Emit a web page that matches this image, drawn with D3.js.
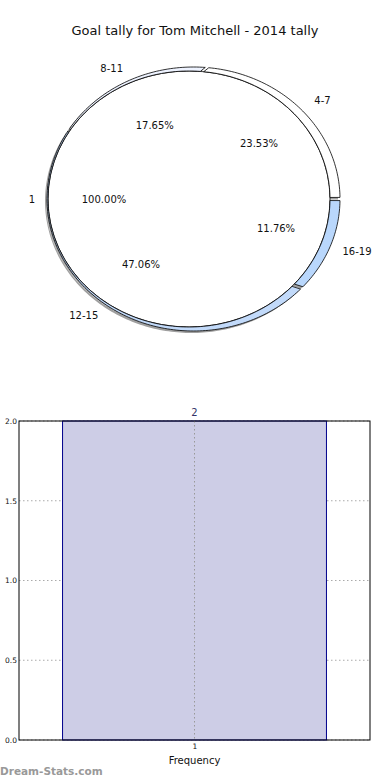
<!DOCTYPE html>
<html><head><meta charset="utf-8">
<script src="https://cdn.jsdelivr.net/npm/d3@7/dist/d3.min.js"></script>
<style>body{margin:0;background:#fff}svg{display:block;font-family:"DejaVu Sans",sans-serif}</style>
</head><body><svg id="c" width="390" height="780"></svg>
<script>
const title = "Goal tally for Tom Mitchell - 2014 tally";
const ringLabels = ["4-7", "8-11", "12-15", "16-19"];
const ringValues = [4, 3, 8, 2];
const ringColors = ["#ffffff", "#eef3ff", "#c2dafa", "#b9d7fc"];
const innerLabels = ["1"];
const innerValues = [1];
const barCategories = [1];
const barValues = [2];
const yTicks = [0.0, 0.5, 1.0, 1.5, 2.0];

const svg = d3.select("#c");
svg.append("text").attr("x", 195).attr("y", 35).attr("text-anchor", "middle")
  .attr("font-size", 13).attr("fill", "#111").text(title);

// ---- pie ----
const cx = 189, cy = 199;
const inner = {cx: 189, cy: 199, rx: 141, ry: 128};
const outer = {cx: 193.5, cy: 199, rx: 146.5, ry: 132};
function ept(e, a) { return [e.cx + e.rx * Math.cos(a), e.cy - e.ry * Math.sin(a)]; }
function sector(a0, a1, eIn, eOut) {
  const n = Math.max(4, Math.ceil(Math.abs(a1 - a0) / 0.02));
  const angs = d3.range(n + 1).map(i => a0 + (a1 - a0) * i / n);
  const pts = angs.map(a => ept(eOut, a));
  if (eIn) angs.slice().reverse().forEach(a => pts.push(ept(eIn, a)));
  else pts.push([eOut.cx, eOut.cy]);
  return d3.line()(pts) + "Z";
}
const pie = d3.pie().sort(null).value(d => d).startAngle(0).endAngle(2 * Math.PI);
const arcs = pie(ringValues); // angles measured counter-clockwise from +x
const pad = 0.012;
const gShadow = svg.append("g").attr("transform", "translate(-2,2)");
const gMain = svg.append("g");
const innerArcs = pie(innerValues);
const fullEl = `M${inner.cx - inner.rx},${inner.cy}a${inner.rx},${inner.ry} 0 1,0 ${2*inner.rx},0a${inner.rx},${inner.ry} 0 1,0 ${-2*inner.rx},0Z`;
gShadow.append("path").attr("d", fullEl).attr("fill", "#777").attr("opacity", 0.7);
arcs.forEach((a, i) => {
  const d = sector(a.startAngle + pad, a.endAngle - pad, inner, outer);
  gShadow.append("path").attr("d", d).attr("fill", "#777").attr("opacity", 0.7);
});
gMain.append("path").attr("d", fullEl).attr("fill", "#fff").attr("stroke", "#000").attr("stroke-width", 0.8);
arcs.forEach((a, i) => {
  const d = sector(a.startAngle + pad, a.endAngle - pad, inner, outer);
  gMain.append("path").attr("d", d).attr("fill", ringColors[i]).attr("stroke", "#000").attr("stroke-width", 0.8);
});
const total = d3.sum(ringValues);
const lcx = 191, pcx = 194;
arcs.forEach((a, i) => {
  const m = (a.startAngle + a.endAngle) / 2;
  svg.append("text").attr("x", lcx + 178 * Math.cos(m)).attr("y", cy - 146 * Math.sin(m))
    .attr("text-anchor", "middle").attr("dy", "0.35em").attr("font-size", 10).attr("fill", "#111")
    .text(ringLabels[i]);
  svg.append("text").attr("x", pcx + 88 * Math.cos(m)).attr("y", cy - 82 * Math.sin(m))
    .attr("text-anchor", "middle").attr("dy", "0.35em").attr("font-size", 10).attr("fill", "#111")
    .text((a.value / total * 100).toFixed(2) + "%");
});
innerArcs.forEach((a, i) => {
  const m = Math.PI;
  svg.append("text").attr("x", cx + 157 * Math.cos(m)).attr("y", cy - 157 * Math.sin(m))
    .attr("text-anchor", "middle").attr("dy", "0.35em").attr("font-size", 10).attr("fill", "#111")
    .text(innerLabels[i]);
  svg.append("text").attr("x", cx + 85 * Math.cos(m)).attr("y", cy)
    .attr("text-anchor", "middle").attr("dy", "0.35em").attr("font-size", 10).attr("fill", "#111")
    .text((a.value / d3.sum(innerValues) * 100).toFixed(2) + "%");
});

// ---- bar chart ----
const L = 19, R = 370, T = 421, B = 740;
const x = d3.scaleLinear().domain([1 - 0.665, 1 + 0.665]).range([L, R]);
const y = d3.scaleLinear().domain([0, 2]).range([B, T]);
const bw = 1.0;
svg.append("g").selectAll("line").data(yTicks).join("line")
  .attr("x1", L).attr("x2", R).attr("y1", d => y(d)).attr("y2", d => y(d))
  .attr("stroke", "#aaa").attr("stroke-dasharray", "1.5,2.5").attr("stroke-width", 1);
svg.selectAll("rect.bar").data(barValues).join("rect").attr("class", "bar")
  .attr("x", (d, i) => x(barCategories[i] - bw / 2)).attr("width", x(bw) - x(0))
  .attr("y", d => y(d)).attr("height", d => y(0) - y(d))
  .attr("fill", "#cdcde6").attr("stroke", "#00008b").attr("stroke-width", 1);
svg.append("g").selectAll("line").data(barCategories).join("line")
  .attr("x1", d => x(d)).attr("x2", d => x(d)).attr("y1", T).attr("y2", B)
  .attr("stroke", "#999").attr("stroke-dasharray", "1.5,2.5").attr("stroke-width", 1);
svg.append("rect").attr("x", L).attr("y", T).attr("width", R - L).attr("height", B - T)
  .attr("fill", "none").attr("stroke", "#000").attr("stroke-width", 1);
const yAxis = svg.append("g").attr("transform", `translate(${L},0)`)
  .call(d3.axisLeft(y).tickValues(yTicks).tickFormat(d3.format(".1f")).tickSize(0).tickPadding(2));
yAxis.select(".domain").remove();
yAxis.selectAll("text").attr("font-size", 7.5).attr("fill", "#111").attr("font-family", "DejaVu Sans");
const xAxis = svg.append("g").attr("transform", `translate(0,${B})`)
  .call(d3.axisBottom(x).tickValues(barCategories).tickFormat(d3.format("d")).tickSize(0).tickPadding(4));
xAxis.select(".domain").remove();
xAxis.selectAll("text").attr("font-size", 7.5).attr("fill", "#111").attr("font-family", "DejaVu Sans");
svg.append("text").attr("x", x(1)).attr("y", 764).attr("text-anchor", "middle")
  .attr("font-size", 10).attr("fill", "#111").text("Frequency");
svg.selectAll("text.val").data(barValues).join("text").attr("class", "val")
  .attr("x", (d, i) => x(barCategories[i])).attr("y", d => y(d) - 5).attr("text-anchor", "middle")
  .attr("font-size", 10).attr("fill", "#333366").text(d => d);
svg.append("text").attr("x", 0).attr("y", 775).attr("font-size", 10.5).attr("font-weight", "bold")
  .attr("fill", "#999").text("Dream-Stats.com");
</script></body></html>
